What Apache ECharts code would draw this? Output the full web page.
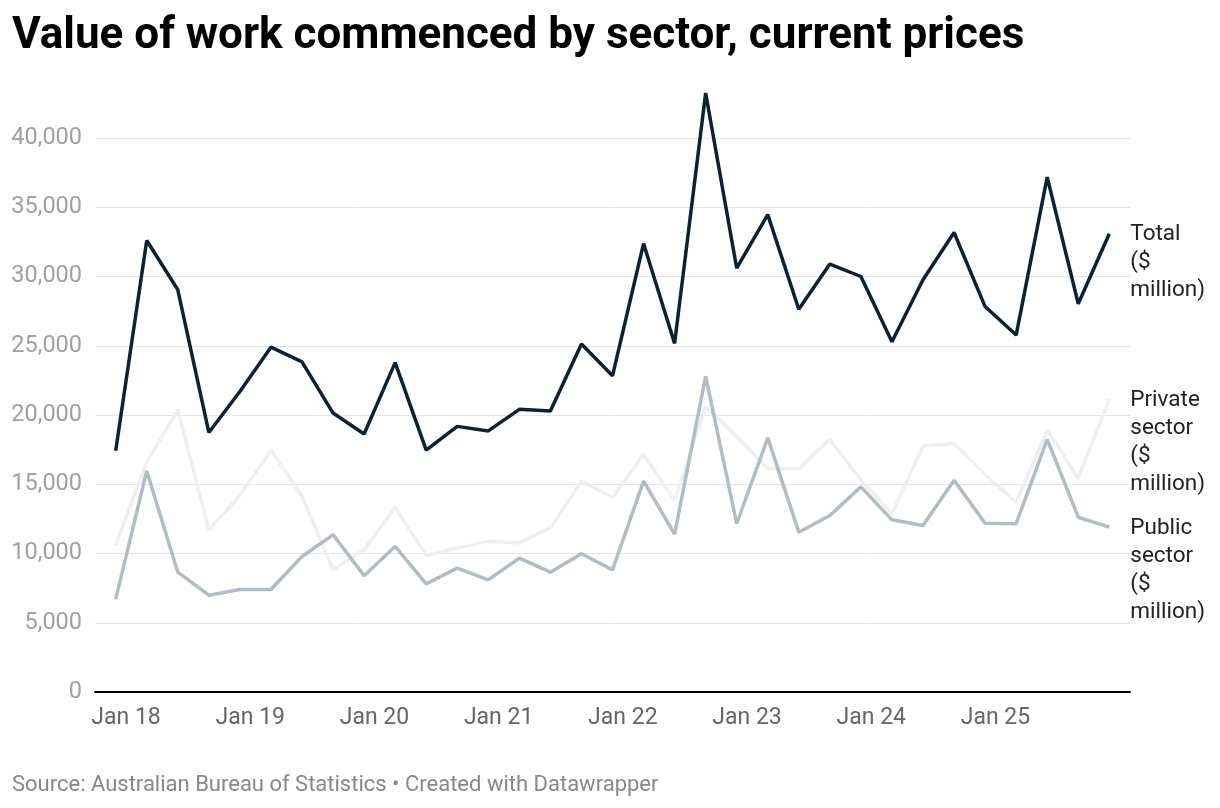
<!DOCTYPE html>
<html>
<head>
<meta charset="utf-8">
<title>Value of work commenced by sector</title>
<script src="https://cdn.jsdelivr.net/npm/echarts@6/dist/echarts.min.js"></script>
<style>
	html, body { margin: 0; padding: 0; background: #fff; }
	#chart1 { width: 1220px; height: 808px; }
</style>
</head>
<body>
<div id="chart1"></div>
<script>
// quarters (last month of each quarter)
var quarters = [
	'2017-12', '2018-03', '2018-06', '2018-09', '2018-12',
	'2019-03', '2019-06', '2019-09', '2019-12',
	'2020-03', '2020-06', '2020-09', '2020-12',
	'2021-03', '2021-06', '2021-09', '2021-12',
	'2022-03', '2022-06', '2022-09', '2022-12',
	'2023-03', '2023-06', '2023-09', '2023-12',
	'2024-03', '2024-06', '2024-09', '2024-12',
	'2025-03', '2025-06', '2025-09', '2025-12'
];
var totalData = [
	17420, 32600, 29040, 18740, 21700, 24900, 23840, 20140, 18630,
	23780, 17470, 19180, 18850, 20410, 20290, 25120, 22830,
	32380, 25170, 43250, 30600, 34470, 27630, 30900, 30000,
	25290, 29760, 33180, 27830, 25770, 37170, 28030, 33090
];
var privateData = [
	10630, 16610, 20360, 11710, 14200, 17450, 14140, 8820, 10270,
	13310, 9860, 10390, 10890, 10770, 11850, 15220, 14040,
	17170, 13840, 20600, 18450, 16130, 16130, 18240, 15290,
	12880, 17760, 17940, 15700, 13680, 18920, 15440, 21150
];
var publicData = [
	6700, 15960, 8650, 6990, 7400, 7400, 9780, 11350, 8400,
	10510, 7810, 8945, 8100, 9665, 8650, 9980, 8820,
	15220, 11400, 22800, 12150, 18350, 11540, 12740, 14810,
	12430, 12020, 15290, 12190, 12150, 18240, 12620, 11900
];
var tickLabels = ['Jan 18', 'Jan 19', 'Jan 20', 'Jan 21', 'Jan 22', 'Jan 23', 'Jan 24', 'Jan 25'];

// month number counted from Jan 2018
function monthIndex(q) {
	var p = q.split('-');
	return (parseInt(p[0], 10) - 2018) * 12 + parseInt(p[1], 10) - 1;
}

function pairs(values) {
	return values.map(function (v, i) { return [monthIndex(quarters[i]), v]; });
}

function endLabel(text, lines) {
	return {
		show: true,
		formatter: text,
		color: '#222',
		fontSize: 22.5,
		lineHeight: 28,
		distance: 21,
		offset: [0, (lines - 1) * 14 + 1]
	};
}

function chart1() {
	var myChart = echarts.init(document.getElementById('chart1'));
	var font = 'Roboto, "Noto Sans", sans-serif';

	var option = {
		animation: false,
		textStyle: { fontFamily: font },
		title: [{
			text: 'Value of work commenced by sector, current prices',
			left: 12,
			top: 15,
			padding: 0,
			textStyle: { fontSize: 44, fontWeight: 'bold', color: '#000', fontFamily: font }
		}, {
			text: 'Source: Australian Bureau of Statistics \u2022 Created with Datawrapper',
			left: 12,
			top: 774,
			padding: 0,
			textStyle: { fontSize: 22, fontWeight: 'normal', color: '#888', fontFamily: font }
		}],
		grid: {
			left: 95,
			right: 90,
			top: 138,
			bottom: 116
		},
		xAxis: {
			type: 'value',
			min: -3,
			max: 97,
			interval: 1,
			axisLine: { show: true, lineStyle: { color: '#000', width: 2 } },
			axisTick: { show: false },
			splitLine: { show: false },
			axisLabel: {
				color: '#666',
				fontSize: 23,
				margin: 15,
				showMinLabel: false,
				showMaxLabel: false,
				formatter: function (v) {
					var m = Math.round(v);
					if (m < 0 || m % 12 !== 0) return '';
					return tickLabels[m / 12] || '';
				}
			}
		},
		yAxis: {
			type: 'value',
			min: 0,
			max: 40000,
			interval: 5000,
			axisLine: { show: false },
			axisTick: { show: false },
			splitLine: { lineStyle: { color: '#e5e5e5', width: 1 } },
			axisLabel: {
				color: '#a0a0a0',
				fontSize: 23.5,
				margin: 13,
				formatter: function (v) { return v.toLocaleString('en-US'); }
			}
		},
		series: [{
			name: 'Private sector ($ million)',
			type: 'line',
			clip: false,
			symbol: 'none',
			lineStyle: { color: '#efefef', width: 3.5 },
			endLabel: endLabel('Private\nsector\n($\nmillion)', 4),
			data: pairs(privateData)
		}, {
			name: 'Public sector ($ million)',
			type: 'line',
			clip: false,
			symbol: 'none',
			lineStyle: { color: '#b2bcc1', width: 3.5 },
			endLabel: endLabel('Public\nsector\n($\nmillion)', 4),
			data: pairs(publicData)
		}, {
			name: 'Total ($ million)',
			type: 'line',
			clip: false,
			symbol: 'none',
			lineStyle: { color: '#0c2231', width: 3.5 },
			endLabel: endLabel('Total\n($\nmillion)', 3),
			data: pairs(totalData)
		}]
	};
	myChart.setOption(option);
	window.addEventListener("resize", function () {
		myChart.resize();
	});
}

chart1();
</script>
</body>
</html>
